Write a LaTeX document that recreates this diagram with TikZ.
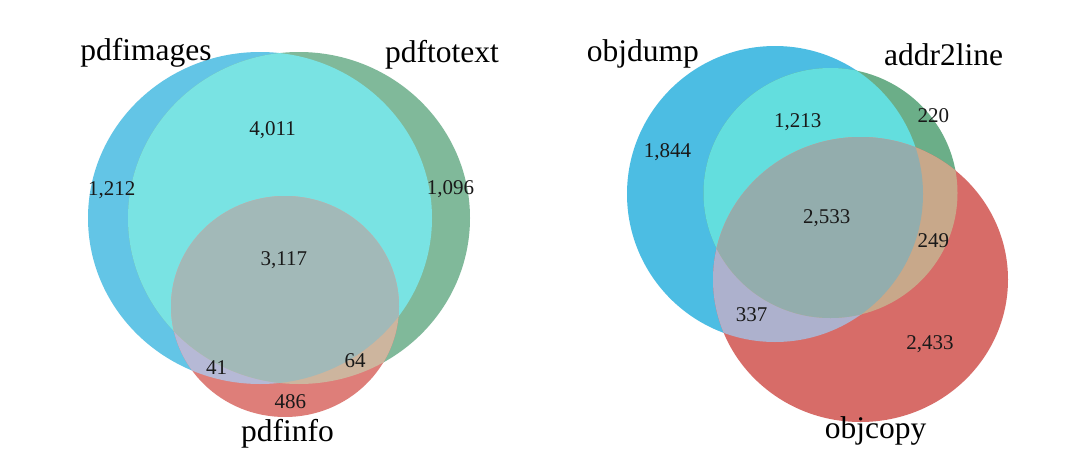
\documentclass[tikz,border=0pt]{standalone}
\usepackage{fontspec}
\setmainfont{Liberation Serif}
\definecolor{LBs}{HTML}{63C5E6}
\definecolor{LGs}{HTML}{80B99A}
\definecolor{LRs}{HTML}{DE7E79}
\definecolor{LBG}{HTML}{79E3E3}
\definecolor{LBR}{HTML}{B6B9D6}
\definecolor{LGR}{HTML}{CDB59E}
\definecolor{LBGR}{HTML}{A2B9B8}
\definecolor{RBs}{HTML}{4CBDE3}
\definecolor{RGs}{HTML}{6BAE88}
\definecolor{RRs}{HTML}{D76C68}
\definecolor{RBG}{HTML}{63DEDE}
\definecolor{RBR}{HTML}{ADB1CD}
\definecolor{RGR}{HTML}{C8A88A}
\definecolor{RBGR}{HTML}{93ADAD}
\newcommand\pLB{(260,218) ellipse [x radius=172pt, y radius=166pt]}
\newcommand\pLG{(299,218) ellipse [x radius=171pt, y radius=166pt]}
\newcommand\pLR{(285,306.5) ellipse [x radius=114pt, y radius=110.5pt]}
\newcommand\pRB{(775,194) ellipse [x radius=148pt, y radius=148pt]}
\newcommand\pRG{(830.5,193) ellipse [x radius=127pt, y radius=125pt]}
\newcommand\pRR{(860.5,279.5) ellipse [x radius=147.5pt, y radius=142.5pt]}
\tikzset{
  setlabel/.style={anchor=base, inner sep=0pt, font=\fontsize{31.5}{36}\selectfont},
  count/.style={anchor=base, inner sep=0pt, font=\fontsize{21}{24}\selectfont, text=black!90}
}
\begin{document}
\begin{tikzpicture}[x=1pt, y=-1pt]
\useasboundingbox[fill=white] (0,0) rectangle (1080,469);
% ---- left diagram ----
\fill[LBs] \pLB;
\fill[LGs] \pLG;
\fill[LRs] \pLR;
\begin{scope}\clip \pLB; \fill[LBG] \pLG; \end{scope}
\begin{scope}\clip \pLB; \fill[LBR] \pLR; \end{scope}
\begin{scope}\clip \pLG; \fill[LGR] \pLR; \end{scope}
\begin{scope}\clip \pLB; \clip \pLG; \fill[LBGR] \pLR; \end{scope}
% ---- right diagram ----
\fill[RBs] \pRB;
\fill[RGs] \pRG;
\fill[RRs] \pRR;
\begin{scope}\clip \pRB; \fill[RBG] \pRG; \end{scope}
\begin{scope}\clip \pRB; \fill[RBR] \pRR; \end{scope}
\begin{scope}\clip \pRG; \fill[RGR] \pRR; \end{scope}
\begin{scope}\clip \pRB; \clip \pRG; \fill[RBGR] \pRR; \end{scope}
% ---- left labels ----
\node[setlabel] (pdfimages) at (146,60) {pdfimages};
\node[setlabel] (pdftotext) at (442,62) {pdftotext};
\node[setlabel] (pdfinfo) at (287.5,441) {pdfinfo};
\node[count] (l4011) at (272.7,135) {4,011};
\node[count] (l1212) at (111.7,195.7) {1,212};
\node[count] (l1096) at (450.5,194) {1,096};
\node[count] (l3117) at (283.8,265) {3,117};
\node[count] (l41) at (216.7,374) {41};
\node[count] (l64) at (355,367.3) {64};
\node[count] (l486) at (290.3,408.3) {486};
% ---- right labels ----
\node[setlabel] (objdump) at (642.8,61.7) {objdump};
\node[setlabel] (addr2line) at (943.5,65.7) {addr2line};
\node[setlabel] (objcopy) at (875.5,438.3) {objcopy};
\node[count] (r1213) at (797.8,127.3) {1,213};
\node[count] (r220) at (933.3,122.3) {220};
\node[count] (r1844) at (667.5,157.7) {1,844};
\node[count] (r2533) at (826.7,223.3) {2,533};
\node[count] (r249) at (933.3,247.7) {249};
\node[count] (r337) at (751.7,321) {337};
\node[count] (r2433) at (930,349.3) {2,433};
\end{tikzpicture}
\end{document}
